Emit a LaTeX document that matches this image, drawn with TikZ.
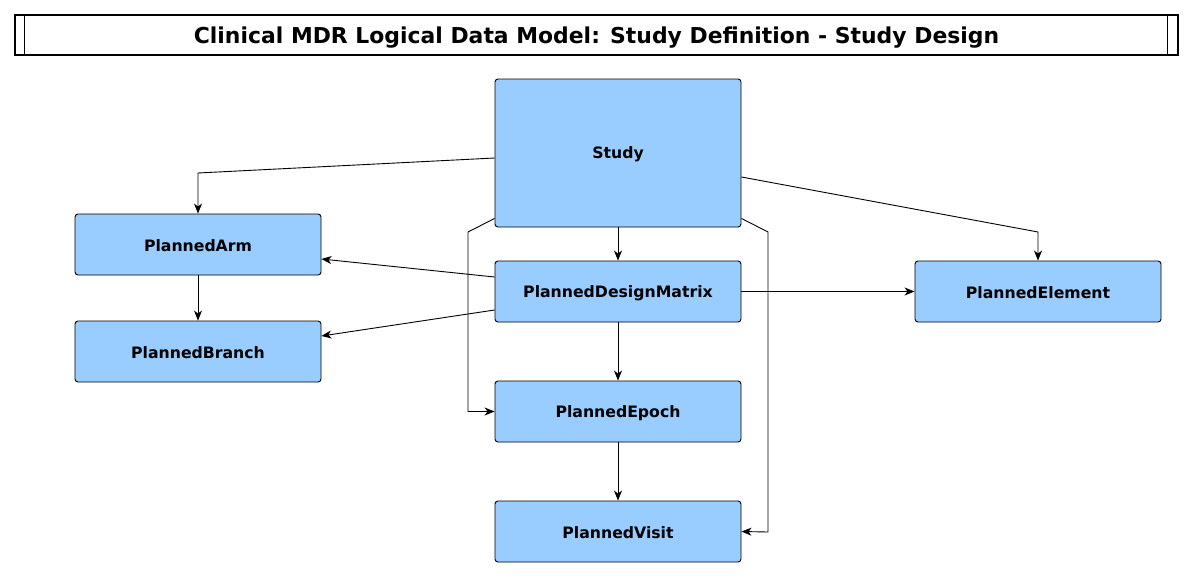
\documentclass[tikz,border=0pt]{standalone}
\usepackage{fontspec}
\setmainfont{DejaVu Sans}
\usetikzlibrary{arrows.meta,calc}
\definecolor{boxblue}{HTML}{99CCFF}
\newcommand{\lowertxt}[2]{\raisebox{-#1}[\height][\depth]{#2}}
\tikzset{
  entity/.style={draw=black, fill=boxblue, rounded corners=3pt, minimum width=246pt, minimum height=61pt, line width=0.9pt, inner sep=0pt, font=\fontsize{15.7}{18}\selectfont\bfseries},
  conn/.style={draw=black, line width=0.9pt, -{Stealth[length=10pt,width=8pt,inset=3pt]}}
}
\begin{document}
\begin{tikzpicture}[x=1pt,y=-1pt]
\useasboundingbox (0,0) rectangle (1193,578);
\fill[white] (0,0) rectangle (1193,578);
% title
\node[draw=black, line width=1.2pt, minimum width=1163pt, minimum height=40pt, inner sep=0pt, font=\fontsize{21.9}{24}\selectfont\bfseries] (title) at (596.5,35) {\lowertxt{3pt}{Clinical MDR Logical Data Model: Study Definition - Study Design}};
\draw[line width=1.2pt] ($(title.north west)+(10,0)$) -- ($(title.south west)+(10,0)$);
\draw[line width=1.2pt] ($(title.north east)+(-11,0)$) -- ($(title.south east)+(-11,0)$);
% nodes
\node[entity, minimum height=148pt] (study) at (618,153) {\lowertxt{1.5pt}{Study}};
\node[entity] (arm) at (198,244.5) {\lowertxt{1.5pt}{PlannedArm}};
\node[entity] (branch) at (198,351.5) {\lowertxt{1.5pt}{PlannedBranch}};
\node[entity] (pdm) at (618,291.5) {\lowertxt{1.5pt}{PlannedDesignMatrix}};
\node[entity] (elem) at (1038,291.5) {\lowertxt{1.5pt}{PlannedElement}};
\node[entity] (epoch) at (618,411.5) {\lowertxt{1.5pt}{PlannedEpoch}};
\node[entity] (visit) at (618,531.5) {\lowertxt{1.5pt}{PlannedVisit}};
% helper coordinates
\coordinate (a1) at (198,173);
\coordinate (e1) at (1038,232);
\coordinate (p1) at (468,232);
\coordinate (p2) at (468,411.5);
\coordinate (v1) at (768,232);
\coordinate (v2) at (768,532);
% connectors
\draw[conn] ($(study.west)+(0,5)$) -- (a1) -- (arm.north);
\draw[conn] ($(study.east)+(0,24)$) -- (e1) -- (elem.north);
\draw[conn] (study.south) -- (pdm.north);
\draw[conn] ($(study.south west)+(0,-9)$) -- (p1) -- (p2) -- (epoch.west);
\draw[conn] ($(study.south east)+(0,-9)$) -- (v1) -- (v2) -- (visit.east);
\draw[conn] ($(pdm.west)+(0,-14.5)$) -- ($(arm.east)+(0,14.5)$);
\draw[conn] ($(pdm.west)+(0,18.5)$) -- ($(branch.east)+(0,-15.5)$);
\draw[conn] (pdm.east) -- (elem.west);
\draw[conn] (pdm.south) -- (epoch.north);
\draw[conn] (arm.south) -- (branch.north);
\draw[conn] (epoch.south) -- (visit.north);
\end{tikzpicture}
\end{document}
